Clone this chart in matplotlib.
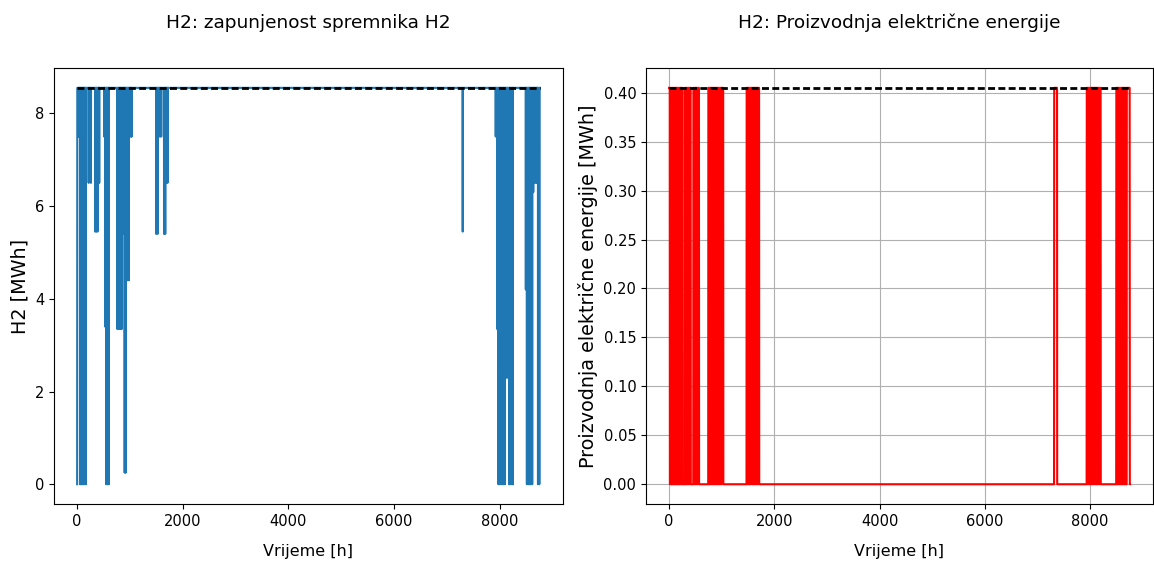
import numpy as np
import matplotlib
matplotlib.use('Agg')
import matplotlib.pyplot as plt
from matplotlib.ticker import FormatStrFormatter

plt.rcParams['font.family'] = ['DejaVu Sans']

# godina u satima
n_hours = 8760

# kapacitet spremnika H2 [MWh] i snaga gorivne celije [MWh/h]
h2_capacity = 8.55
fc_power = 0.405

# H2 spremnik: sati u kojima razina padne i najniza razina [MWh]
h2_dip_hours = [0, 20, 40, 55, 75, 95, 115, 135, 150, 165, 218, 262,
                340, 365, 385, 400, 418, 510, 530, 550, 575, 600,
                760, 780, 800, 820, 845, 860, 880, 900, 920, 940, 960, 980,
                1000, 1020, 1032, 1495, 1525, 1545, 1570, 1592, 1645, 1668,
                1685, 1710, 7300,
                7925, 7950, 7975, 8000, 8025, 8050, 8075, 8100, 8125, 8145,
                8180, 8195, 8235, 8250,
                8495, 8515, 8540, 8565, 8590, 8615, 8635, 8660, 8690, 8710,
                8725, 8750]
h2_dip_levels = [0.0, 7.5, 7.5, 0.0, 0.0, 0.0, 0.0, 0.0, 4.2, 0.0, 6.5, 6.5,
                 5.45, 5.45, 5.45, 6.5, 6.5, 7.5, 3.4, 0.0, 0.0, 0.0,
                 3.35, 3.35, 3.35, 3.35, 3.35, 5.4, 5.4, 0.25, 0.25, 4.4, 4.4, 4.4,
                 7.5, 7.5, 7.5, 5.4, 5.4, 7.5, 7.5, 7.5, 5.4, 5.4,
                 6.5, 6.5, 5.45,
                 7.5, 3.35, 0.0, 0.0, 0.0, 0.0, 0.0, 0.0, 2.3, 2.3,
                 0.0, 0.0, 0.0, 0.0,
                 4.2, 0.0, 0.0, 0.0, 0.0, 0.0, 6.3, 6.5, 6.5, 6.5,
                 0.0, 0.0]

# proizvodnja el. energije: intervali rada gorivne celije [h]
fc_on_start = [0, 24, 50, 76, 102, 128, 154, 180, 208, 240,
               303, 330, 358, 386, 461, 488, 516, 544,
               745, 772, 800, 828, 856, 884, 912, 940, 968, 996,
               1473, 1500, 1528, 1556, 1599, 1626, 1654, 1682, 7318,
               7937, 7964, 7992, 8020, 8048, 8076, 8120, 8148, 8176,
               8499, 8526, 8554, 8582, 8610, 8638, 8662, 8698]
fc_on_end = [14, 40, 66, 92, 118, 144, 170, 195, 226, 260,
             320, 348, 376, 411, 478, 506, 534, 569,
             762, 790, 818, 846, 874, 902, 930, 958, 986, 1030,
             1490, 1518, 1546, 1586, 1616, 1644, 1672, 1712, 7375,
             7954, 7982, 8010, 8038, 8066, 8108, 8138, 8166, 8203,
             8516, 8544, 8572, 8600, 8628, 8652, 8680, 8755]


def build_chart(fig, rect, title, y_label, x_label):
    ax = fig.add_axes(rect)
    ax.set_title(title, fontsize=13.3, pad=29)
    ax.set_ylabel(y_label, fontsize=13.8)
    ax.set_xlabel(x_label, fontsize=11.5, labelpad=11)
    ax.tick_params(labelsize=10.5)
    return ax


t = np.arange(n_hours)

h2 = np.full(n_hours, h2_capacity)
h2[h2_dip_hours] = h2_dip_levels

prod = np.zeros(n_hours)
for s, e in zip(fc_on_start, fc_on_end):
    prod[s:e] = fc_power

fig = plt.figure(figsize=(11.54, 5.67), dpi=100)

ax1 = build_chart(fig, [0.0468, 0.111, 0.441, 0.769],
                  'H2: zapunjenost spremnika H2', 'H2 [MWh]', 'Vrijeme [h]')
ax1.plot(t, h2, color='#1f77b4', lw=1.5)
ax1.plot([t[0], t[-1]], [h2_capacity, h2_capacity], color='k',
         linestyle=(0, (2.5, 1.2)), lw=2)
ax1.set_yticks([0, 2, 4, 6, 8])

ax2 = build_chart(fig, [0.5598, 0.111, 0.4393, 0.769],
                  'H2: Proizvodnja električne energije',
                  'Proizvodnja električne energije [MWh]', 'Vrijeme [h]')
ax2.plot(t, prod, color='red', lw=1.5)
ax2.plot([t[0], t[-1]], [fc_power, fc_power], color='k',
         linestyle=(0, (2.5, 1.2)), lw=2)
ax2.grid(True)
ax2.yaxis.set_major_formatter(FormatStrFormatter('%.2f'))

fig.savefig('out.png', dpi=100)
